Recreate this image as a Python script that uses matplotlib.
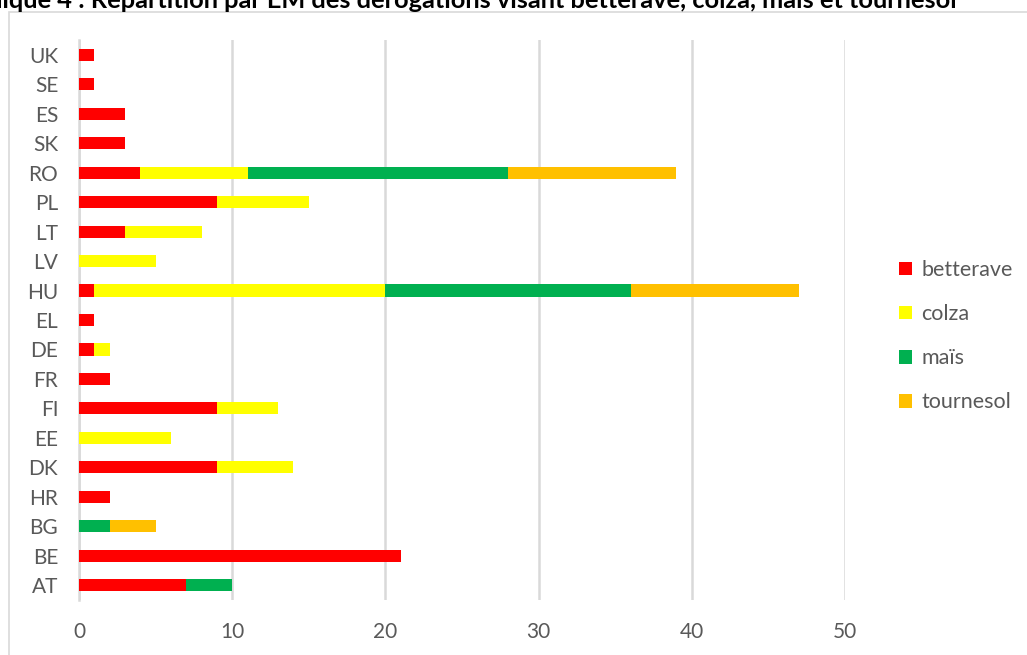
import numpy as np
import matplotlib.pyplot as plt
from matplotlib.patches import Rectangle

# données (de bas en haut)
pays = ["AT", "BE", "BG", "HR", "DK", "EE", "FI", "FR", "DE", "EL",
        "HU", "LV", "LT", "PL", "RO", "SK", "ES", "SE", "UK"]
betterave = [7, 21, 0, 2, 9, 0, 9, 2, 1, 1, 1, 0, 3, 9, 4, 3, 3, 1, 1]
colza     = [0, 0, 0, 0, 5, 6, 4, 0, 1, 0, 19, 5, 5, 6, 7, 0, 0, 0, 0]
mais      = [3, 0, 2, 0, 0, 0, 0, 0, 0, 0, 16, 0, 0, 0, 17, 0, 0, 0, 0]
tournesol = [0, 0, 3, 0, 0, 0, 0, 0, 0, 0, 11, 0, 0, 0, 11, 0, 0, 0, 0]

series = [("betterave", betterave, "#ff0000"),
          ("colza", colza, "#ffff00"),
          ("maïs", mais, "#00b050"),
          ("tournesol", tournesol, "#ffc000")]

plt.rcParams['font.family'] = ['Lato', 'DejaVu Sans']
gris = "#595959"

fig = plt.figure(figsize=(10.27, 6.55), dpi=100)
ax = fig.add_axes([79/1027, 1-600/655, (845-79)/1027, (600-40)/655])

y = np.arange(len(pays))
gauche = np.zeros(len(pays))
for nom, vals, c in series:
    vals = np.array(vals, dtype=float)
    ax.barh(y, vals, left=gauche, height=0.41, color=c, label=nom, zorder=3)
    gauche += vals

ax.set_xlim(0, 50)
ax.set_ylim(-0.5, len(pays) - 0.5)
ax.set_yticks(y)
ax.set_yticklabels(pays)
ax.set_xticks(range(0, 51, 10))
ax.tick_params(length=0, labelsize=15, colors=gris)
ax.tick_params(axis='x', pad=16)
ax.tick_params(axis='y', pad=15)
ax.grid(axis='x', color="#d9d9d9", linewidth=1.8, zorder=0)
for s in ["top", "right", "bottom"]:
    ax.spines[s].set_visible(False)
ax.spines["left"].set_color("#d9d9d9")
ax.spines["left"].set_linewidth(1.8)

leg = ax.legend(loc="center left", bbox_to_anchor=(1.045, 0.471), frameon=False,
                fontsize=15.5, handlelength=0.6, handleheight=0.6,
                handletextpad=0.45, labelspacing=1.12)
for t in leg.get_texts():
    t.set_color(gris)

# cadre du graphique
fig.patches.append(Rectangle((9/1027, -0.1), 1.2, 0.1 + 1 - 12/655,
                             transform=fig.transFigure, fill=False,
                             edgecolor="#d9d9d9", linewidth=1.2))

# titre (coupé en haut dans l'original)
fig.text(957/1027, 1 - 1/655,
         "Graphique 4 : Répartition par EM des dérogations visant betterave, colza, maïs et tournesol",
         ha="right", va="center", fontsize=18.3, fontweight="bold", color="black",
         family=["Lato", "DejaVu Sans"])

fig.savefig("out.png", dpi=100)
